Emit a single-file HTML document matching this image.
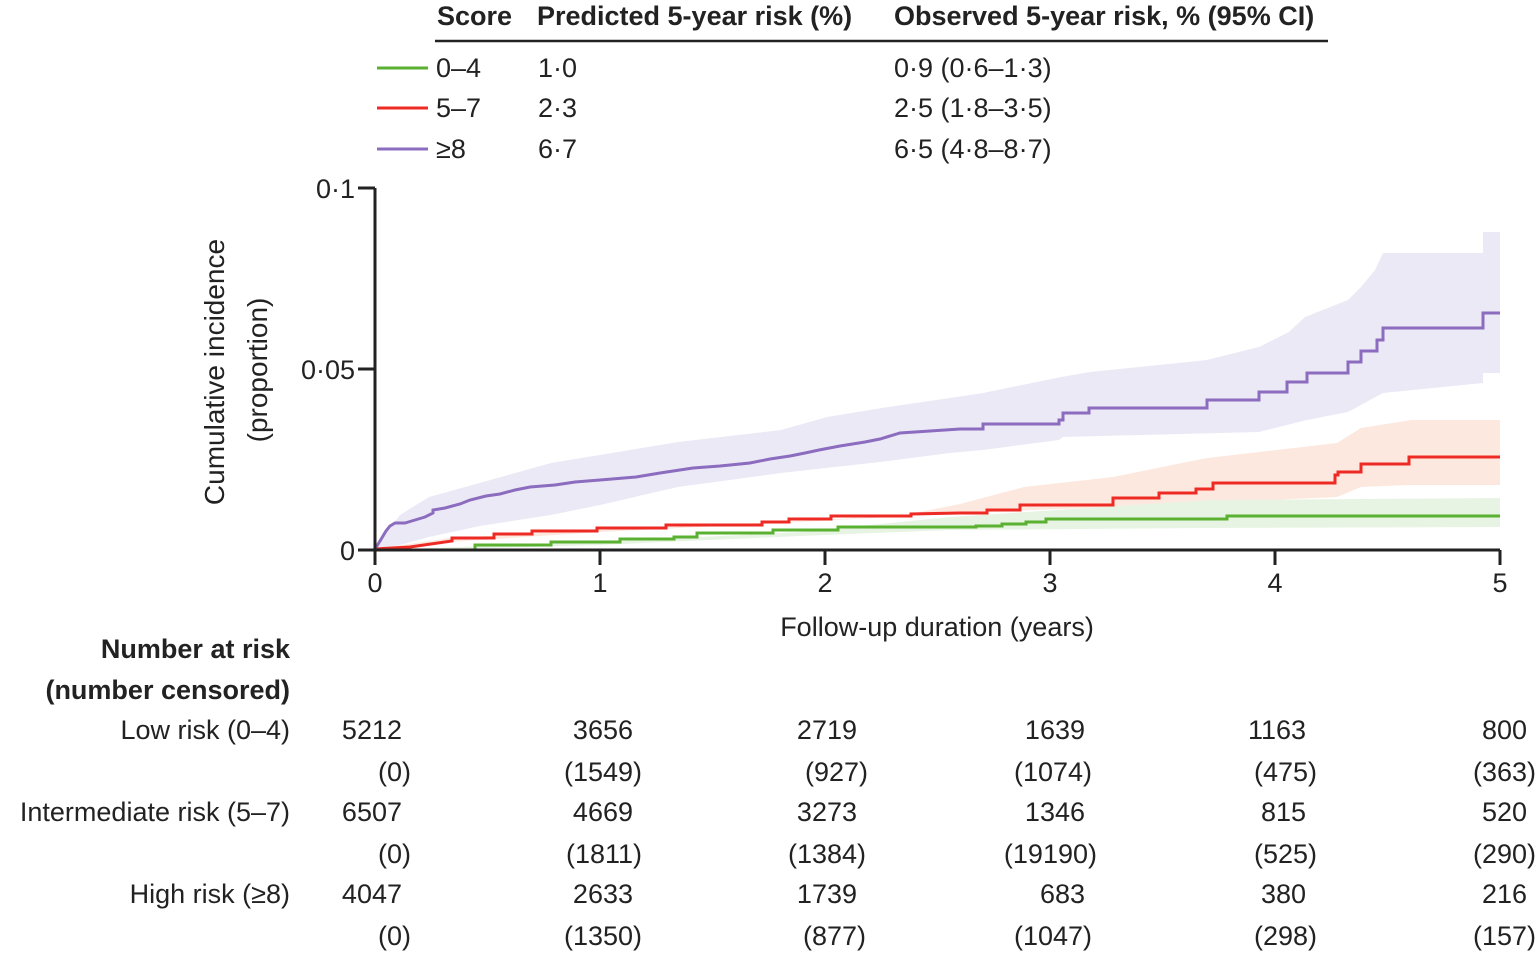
<!DOCTYPE html>
<html><head><style>
body{margin:0;background:#fff;}
svg text{font-family:"Liberation Sans",sans-serif;fill:#222;}
</style></head><body>
<svg width="1536" height="951" xmlns="http://www.w3.org/2000/svg">
<g font-size="27">
<text x="437" y="25" font-weight="bold">Score</text>
<text x="537" y="25" font-weight="bold">Predicted 5-year risk (%)</text>
<text x="894" y="25" font-weight="bold">Observed 5-year risk, % (95% CI)</text>
<line x1="435" y1="41" x2="1328" y2="41" stroke="#222" stroke-width="2.5"/>
<line x1="377" y1="68" x2="428" y2="68" stroke="#5ab031" stroke-width="3"/>
<line x1="377" y1="108" x2="428" y2="108" stroke="#ee2a24" stroke-width="3"/>
<line x1="377" y1="149" x2="428" y2="149" stroke="#8b6cbf" stroke-width="3"/>
<text x="436" y="77">0–4</text><text x="538" y="77">1·0</text><text x="894" y="77">0·9 (0·6–1·3)</text>
<text x="436" y="117">5–7</text><text x="538" y="117">2·3</text><text x="894" y="117">2·5 (1·8–3·5)</text>
<text x="436" y="158">≥8</text><text x="538" y="158">6·7</text><text x="894" y="158">6·5 (4·8–8·7)</text>
</g>
<!-- bands -->
<polygon fill="#ece9f6" points="375,548 400,515 429,497 551,463 678,442 781,430 827,417 888,407 950,398 983,393 1061,377 1090,372 1207,360 1259,347 1289,332 1305,317 1348,300 1361,287 1375,270 1383,253 1483,253 1483,232 1500,232 1500,373 1483,373 1483,383 1383,393 1348,412 1307,420 1259,432 1063,437 1059,440 983,450 950,453 880,462 781,473 678,487 600,505 551,515 480,526 429,537 400,545 375,550"/>
<polygon fill="#fde8df" points="375,549 450,538 600,530 760,523 900,516 960,504 1024,487 1113,477 1207,458 1337,443 1361,428 1411,420 1500,420 1500,485 1411,485 1361,487 1337,497 1113,507 960,513 800,522 600,532 450,542 375,550"/>
<polygon fill="#e8f4e3" points="375,550 600,542 800,532 950,517 1209,500 1500,498 1500,527 1209,528 950,530 800,536 600,545 375,551"/>
<!-- curves -->
<polyline fill="none" stroke="#5ab031" stroke-width="3" points="375,550 475,550 475,545 551,545 551,542 620,542 620,539 674,539 674,537 697,537 697,533 773,533 773,530 838,530 838,527 976,527 976,526 1002,526 1002,524 1026,524 1026,522 1046,522 1046,519 1227,519 1227,516 1500,516"/>
<polyline fill="none" stroke="#ee2a24" stroke-width="3" points="375,549 410,547 452,541 452,538 494,538 494,534 532,534 532,531 597,531 597,528 666,528 666,525 762,525 762,522 789,522 789,519 831,519 831,516 911,516 911,514 960,513 987,513 987,510 1020,510 1020,505 1113,505 1113,498 1159,498 1159,493 1196,493 1196,489 1213,489 1213,483 1335,483 1335,475 1338,475 1338,472 1361,472 1361,464 1409,464 1409,457 1500,457"/>
<polyline fill="none" stroke="#8b6cbf" stroke-width="3" points="375,549 380,541 386,531 390,526 395,523 405,523 415,520 425,517 433,513 433,510 445,508 460,504 470,500 486,496 500,494 515,490 530,487 555,485 575,482 600,480 636,477 660,473 693,468 720,466 750,463 770,459 790,456 805,453 819,450 840,446 865,442 880,439 900,433 960,429 983,429 983,424 1059,424 1059,420 1063,420 1063,413 1089,413 1089,408 1207,408 1207,400 1259,400 1259,392 1287,392 1287,382 1307,382 1307,373 1348,373 1348,362 1361,362 1361,351 1377,351 1377,340 1383,340 1383,328 1483,328 1483,313 1500,313"/>
<!-- axes -->
<g stroke="#222" stroke-width="3" fill="none">
<polyline points="375,188 375,550 1500,550"/>
<line x1="358" y1="188" x2="375" y2="188"/><line x1="358" y1="369" x2="375" y2="369"/><line x1="358" y1="550" x2="375" y2="550"/>
<line x1="375" y1="550" x2="375" y2="565"/><line x1="600" y1="550" x2="600" y2="565"/><line x1="825" y1="550" x2="825" y2="565"/><line x1="1050" y1="550" x2="1050" y2="565"/><line x1="1275" y1="550" x2="1275" y2="565"/><line x1="1500" y1="550" x2="1500" y2="565"/>
</g>
<g font-size="27">
<text x="355" y="198" text-anchor="end">0·1</text>
<text x="355" y="379" text-anchor="end">0·05</text>
<text x="355" y="560" text-anchor="end">0</text>
<g text-anchor="middle">
<text x="375" y="592">0</text><text x="600" y="592">1</text><text x="825" y="592">2</text><text x="1050" y="592">3</text><text x="1275" y="592">4</text><text x="1500" y="592">5</text>
<text x="937" y="636">Follow-up duration (years)</text>
<text transform="translate(224,372) rotate(-90)" font-size="28">Cumulative incidence</text>
<text transform="translate(267,370) rotate(-90)" font-size="28">(proportion)</text>
</g>
<g text-anchor="end">
<text x="290" y="658" font-weight="bold">Number at risk</text>
<text x="290" y="699" font-weight="bold">(number censored)</text>
<text x="290" y="739">Low risk (0–4)</text>
<text x="290" y="821">Intermediate risk (5–7)</text>
<text x="290" y="903">High risk (≥8)</text>
<text x="402" y="739">5212</text><text x="633" y="739">3656</text><text x="857" y="739">2719</text><text x="1085" y="739">1639</text><text x="1306" y="739">1163</text><text x="1527" y="739">800</text>
<text x="411" y="781">(0)</text><text x="642" y="781">(1549)</text><text x="868" y="781">(927)</text><text x="1092" y="781">(1074)</text><text x="1317" y="781">(475)</text><text x="1536" y="781">(363)</text>
<text x="402" y="821">6507</text><text x="633" y="821">4669</text><text x="857" y="821">3273</text><text x="1085" y="821">1346</text><text x="1306" y="821">815</text><text x="1527" y="821">520</text>
<text x="411" y="863">(0)</text><text x="642" y="863">(1811)</text><text x="866" y="863">(1384)</text><text x="1097" y="863">(19190)</text><text x="1317" y="863">(525)</text><text x="1536" y="863">(290)</text>
<text x="402" y="903">4047</text><text x="633" y="903">2633</text><text x="857" y="903">1739</text><text x="1085" y="903">683</text><text x="1306" y="903">380</text><text x="1527" y="903">216</text>
<text x="411" y="945">(0)</text><text x="642" y="945">(1350)</text><text x="866" y="945">(877)</text><text x="1092" y="945">(1047)</text><text x="1317" y="945">(298)</text><text x="1536" y="945">(157)</text>
</g>
</g>
</svg>
</body></html>
